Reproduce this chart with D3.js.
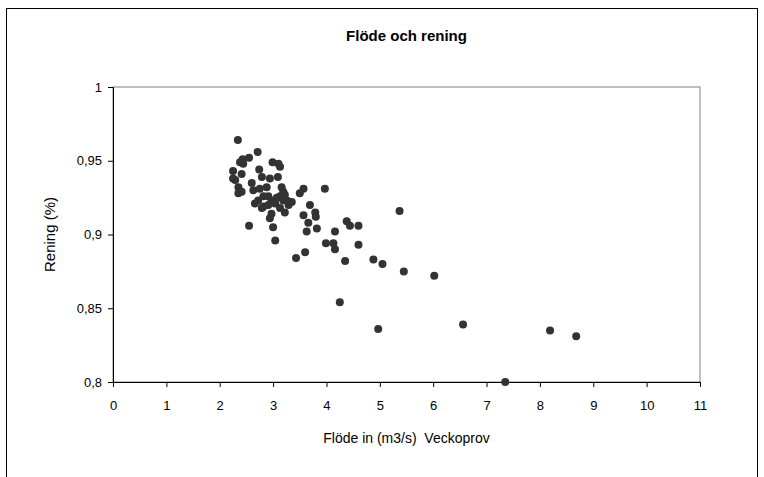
<!DOCTYPE html>
<html>
<head>
    <meta charset="utf-8">
    <style>
        body { margin: 0; background: #fff; }
        text { font-family: "Liberation Sans", Arial, sans-serif; fill: #000; }
        .tick text { font-size: 13px; }
    </style>
</head>
<body>
    <svg width="764" height="477"></svg>
    <script src="https://cdn.jsdelivr.net/npm/d3@7"></script>
    <script>
        // Flöde in (m3/s), veckoprov
        var flow = [2.34, 2.71, 2.55, 2.43, 2.38, 2.99, 3.10, 3.13, 2.25, 2.41,
                    2.74, 2.25, 2.60, 2.79, 2.94, 3.09, 2.35, 2.35, 2.41, 2.63,
                    2.75, 2.88, 3.16, 3.19, 3.57, 3.50, 3.97, 3.22, 3.26, 2.66,
                    2.72, 2.82, 2.91, 2.97, 3.07, 3.13, 3.19, 3.35, 2.82, 2.91,
                    2.79, 3.13, 3.22, 2.97, 2.94, 3.69, 3.79, 3.80, 3.57, 3.66,
                    3.63, 3.82, 4.16, 2.55, 3.00, 3.04, 3.60, 3.99, 4.13, 4.16,
                    3.43, 4.38, 4.44, 4.60, 4.60, 4.35, 4.88, 5.05, 5.45, 6.02,
                    5.37, 4.25, 4.97, 6.56, 8.19, 8.68, 7.35, 3.04, 3.29, 2.29,
                    2.44];
        // Rening (andel)
        var rening = [0.964, 0.956, 0.952, 0.951, 0.949, 0.949, 0.948, 0.946, 0.943, 0.941,
                      0.944, 0.938, 0.935, 0.939, 0.938, 0.939, 0.932, 0.928, 0.929, 0.930,
                      0.931, 0.932, 0.932, 0.929, 0.931, 0.928, 0.931, 0.927, 0.923, 0.921,
                      0.923, 0.926, 0.926, 0.923, 0.925, 0.926, 0.923, 0.922, 0.919, 0.920,
                      0.918, 0.918, 0.915, 0.914, 0.911, 0.920, 0.915, 0.912, 0.913, 0.908,
                      0.902, 0.904, 0.902, 0.906, 0.905, 0.896, 0.888, 0.894, 0.894, 0.890,
                      0.884, 0.909, 0.906, 0.906, 0.893, 0.882, 0.883, 0.880, 0.875, 0.872,
                      0.916, 0.854, 0.836, 0.839, 0.835, 0.831, 0.800, 0.921, 0.920, 0.937,
                      0.948];
        var xTicks = [0, 1, 2, 3, 4, 5, 6, 7, 8, 9, 10, 11];
        var yTicks = [0.8, 0.85, 0.9, 0.95, 1];

        var svg = d3.select("svg");
        var plotL = 113, plotR = 700, plotT = 87, plotB = 382;

        var x = d3.scaleLinear().domain([0, 11]).range([plotL, plotR]);
        var y = d3.scaleLinear().domain([0.8, 1]).range([plotB, plotT]);
        var fmt = function(v) { return String(+v.toFixed(2)).replace(".", ","); };

        // yttre ram
        svg.append("rect")
            .attr("x", 6.5).attr("y", 8.5)
            .attr("width", 751).attr("height", 500)
            .attr("fill", "none").attr("stroke", "#000");

        // ritytans ram
        svg.append("rect")
            .attr("x", plotL).attr("y", plotT)
            .attr("width", plotR - plotL).attr("height", plotB - plotT)
            .attr("fill", "none").attr("stroke", "#808080");

        svg.append("g")
            .attr("transform", "translate(0," + plotB + ")")
            .call(d3.axisBottom(x).tickValues(xTicks).tickSize(5).tickPadding(14).tickFormat(d3.format("d")));
        svg.append("g")
            .attr("transform", "translate(" + plotL + ",0)")
            .call(d3.axisLeft(y).tickValues(yTicks).tickSize(5).tickPadding(6).tickFormat(fmt));
        svg.selectAll(".domain").attr("stroke", "#000");
        svg.selectAll(".tick line").attr("stroke", "#000");
        svg.selectAll(".tick text").attr("font-family", null).attr("font-size", null);

        svg.append("g").selectAll("circle")
            .data(flow)
            .enter().append("circle")
            .attr("cx", function(d) { return x(d); })
            .attr("cy", function(d, i) { return y(rening[i]); })
            .attr("r", 4)
            .attr("fill", "#333");

        svg.append("text")
            .attr("x", (plotL + plotR) / 2).attr("y", 41)
            .attr("text-anchor", "middle")
            .style("font-size", "15px").style("font-weight", "bold")
            .text("Flöde och rening");

        svg.append("text")
            .attr("x", (plotL + plotR) / 2).attr("y", 443)
            .attr("text-anchor", "middle")
            .style("font-size", "14px").style("white-space", "pre")
            .text("Flöde in (m3/s)  Veckoprov");

        svg.append("text")
            .attr("transform", "translate(55," + (plotT + plotB) / 2 + ") rotate(-90)")
            .attr("text-anchor", "middle")
            .style("font-size", "15px")
            .text("Rening (%)");
    </script>
</body>
</html>
